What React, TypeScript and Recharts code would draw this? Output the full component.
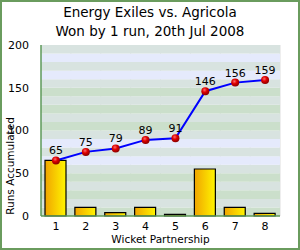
import {
  Bar,
  CartesianGrid,
  ComposedChart,
  LabelList,
  Line,
  ReferenceArea,
  XAxis,
  YAxis,
} from 'recharts'

const wickets = ['1', '2', '3', '4', '5', '6', '7', '8']
const partnershipRuns = [65, 10, 4, 10, 2, 55, 10, 3]
const accumulatedRuns = [65, 75, 79, 89, 91, 146, 156, 159]
const yTicks = [0, 50, 100, 150, 200]

const data = wickets.map((w, i) => ({
  wicket: w,
  runs: partnershipRuns[i],
  total: accumulatedRuns[i],
}))

// background stripes, 10 runs tall; alternate blue / green tints per 50
const STRIPES = Array.from({ length: 20 }, (_, i) => {
  const band = Math.floor(i / 5)
  const tint = band % 2 === 0 ? '#cbdfcb' : '#e5eafc'
  return { y1: i * 10, y2: i * 10 + 10, fill: i % 2 === 0 ? tint : '#d8e3e0' }
})

const FONT = 'DejaVu Sans, Verdana, sans-serif'

export default function App() {
  return (
    <div
      style={{
        position: 'fixed',
        left: 0,
        top: 0,
        width: 300,
        height: 250,
        boxSizing: 'border-box',
        border: '2px solid #6a9c5e',
        background: '#fff',
        fontFamily: FONT,
      }}
    >
      <div
        style={{
          position: 'absolute',
          left: -2,
          top: 1,
          width: 300,
          textAlign: 'center',
          fontSize: 13.5,
          lineHeight: '19px',
          color: '#000',
        }}
      >
        <div>Energy Exiles vs. Agricola</div>
        <div>Won by 1 run, 20th Jul 2008</div>
      </div>
      <div style={{ position: 'absolute', left: -2, top: -2 }}>
        <ComposedChart
          width={300}
          height={250}
          data={data}
          margin={{ top: 45, right: 20, bottom: 0, left: 0 }}
        >
          <defs>
            <linearGradient id="barFill" x1="0" y1="0" x2="1" y2="0">
              <stop offset="0%" stopColor="#f0a400" />
              <stop offset="100%" stopColor="#fff500" />
            </linearGradient>
            <radialGradient id="ball" cx="0.4" cy="0.35" r="0.65">
              <stop offset="0%" stopColor="#ff6a6a" />
              <stop offset="45%" stopColor="#e00000" />
              <stop offset="100%" stopColor="#8a0000" />
            </radialGradient>
          </defs>
          {STRIPES.map((s) => (
            <ReferenceArea
              key={s.y1}
              y1={s.y1}
              y2={s.y2}
              fill={s.fill}
              fillOpacity={1}
              stroke="none"
              ifOverflow="visible"
            />
          ))}
          <CartesianGrid
            horizontal={false}
            stroke="#dedede"
            strokeWidth={1}
            verticalCoordinatesGenerator={({ offset }: any) =>
              wickets.map((_, i) => offset.left + ((i + 1) * offset.width) / wickets.length)
            }
          />
          <XAxis
            dataKey="wicket"
            height={34}
            tickLine={false}
            axisLine={{ stroke: '#5e9a5a', strokeWidth: 1.5 }}
            tick={{ fill: '#000', fontSize: 11, fontFamily: FONT }}
            tickMargin={0}
            label={{
              value: 'Wicket Partnership',
              position: 'insideBottom',
              offset: 7,
              fill: '#000',
              fontSize: 10.5,
              fontFamily: FONT,
            }}
          />
          <YAxis
            width={41}
            domain={[0, 200]}
            ticks={yTicks}
            interval={0}
            tickLine={false}
            axisLine={{ stroke: '#5e9a5a', strokeWidth: 1.5 }}
            tick={{ fill: '#000', fontSize: 11, fontFamily: FONT }}
            tickMargin={6}
            label={() => (
              <text
                x={10}
                y={166}
                transform="rotate(-90 10 166)"
                textAnchor="middle"
                dominantBaseline="central"
                fontSize={10.5}
                fontFamily={FONT}
                fill="#000"
              >
                Runs Accumulated
              </text>
            )}
          />
          <Bar
            dataKey="runs"
            barSize={21}
            fill="url(#barFill)"
            stroke="#000"
            strokeWidth={1.2}
            isAnimationActive={false}
          />
          <Line
            dataKey="total"
            type="linear"
            stroke="#0000ff"
            strokeWidth={2}
            dot={{ r: 4, fill: 'url(#ball)', stroke: 'none' }}
            activeDot={false}
            isAnimationActive={false}
          >
            <LabelList
              dataKey="total"
              position="top"
              offset={6}
              fill="#000"
              fontSize={11}
              fontFamily={FONT}
            />
          </Line>
        </ComposedChart>
      </div>
    </div>
  )
}
